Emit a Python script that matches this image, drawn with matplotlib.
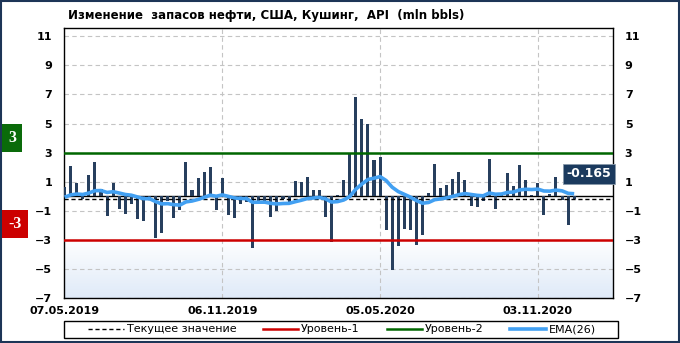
import numpy as np
import matplotlib
matplotlib.use("Agg")
import matplotlib.pyplot as plt
from matplotlib.lines import Line2D
from matplotlib.patches import Rectangle
from matplotlib.colors import LinearSegmentedColormap
import matplotlib.transforms as mtransforms

values = [0.6, 2.05, 0.89, -0.22, 1.45, 2.38, 0.53, -1.33, 0.88, -0.85,
          -1.2, -0.52, -1.55, -1.69, -0.1, -2.9, -2.5, -0.32, -1.47, -0.92,
          2.32, 0.4, 1.22, 1.64, 1.98, -0.92, 1.22, -1.27, -1.47, -0.56,
          -0.38, -3.58, -0.32, -0.34, -1.46, -1.05, -0.2, -0.37, 1.05, 0.96,
          1.31, 0.42, 0.42, -1.46, -3.17, 0.08, 1.11, 2.93, 6.8, 5.34,
          4.94, 2.47, 2.68, -2.35, -5.08, -3.45, -2.28, -2.35, -3.38, -2.69,
          0.2, 2.19, 0.55, 0.75, 1.16, 1.64, 1.1, -0.64, -0.71, -0.31,
          2.58, -0.87, 0.25, 1.62, 0.73, 2.17, 1.14, 0.11, 0.94, -1.28,
          0.18, 1.35, -0.25, -1.96, -0.165]
ema26 = [-0.07, 0.09, 0.15, 0.12, 0.22, 0.38, 0.39, 0.26, 0.31, 0.22,
         0.12, 0.07, -0.05, -0.17, -0.17, -0.37, -0.53, -0.51, -0.58, -0.61,
         -0.39, -0.33, -0.22, -0.08, 0.07, -0.00, 0.09, -0.01, -0.12, -0.15,
         -0.17, -0.42, -0.41, -0.41, -0.49, -0.53, -0.50, -0.49, -0.38, -0.28,
         -0.16, -0.12, -0.08, -0.18, -0.40, -0.37, -0.26, -0.02, 0.48, 0.84,
         1.15, 1.24, 1.35, 1.08, 0.62, 0.32, 0.13, -0.06, -0.30, -0.48,
         -0.43, -0.24, -0.18, -0.11, -0.01, 0.11, 0.18, 0.12, 0.06, 0.03,
         0.22, 0.14, 0.15, 0.26, 0.29, 0.43, 0.48, 0.46, 0.49, 0.36,
         0.35, 0.42, 0.37, 0.20, 0.17]
tick_idx = [0, 26, 52, 78]
tick_labels = ["07.05.2019", "06.11.2019", "05.05.2020", "03.11.2020"]
level1 = -3
level2 = 3
current = -0.165
yticks = [-7, -5, -3, -1, 1, 3, 5, 7, 9, 11]
legend_labels = ["Текущее значение", "Уровень-1", "Уровень-2", "EMA(26)"]

C_BAR = "#273f5e"
C_RED = "#cc0000"
C_GREEN = "#006600"
C_EMA = "#42a0f2"

fig = plt.figure(figsize=(6.8, 3.43), dpi=100)
ax = fig.add_axes([64/680, 1-298/343, (613-64)/680, (298-28)/343])
x = np.arange(len(values))

# gradient background at the bottom of the plot area
cmap = LinearSegmentedColormap.from_list(
    "g", [(0, "#ffffff"), (0.78, "#ffffff"), (1, "#dfeaf8")])
ax.imshow(np.linspace(1, 0, 256).reshape(-1, 1), aspect="auto", cmap=cmap,
          origin="lower", extent=[0, 1, 0, 1], transform=ax.transAxes, zorder=0)

for yv in yticks:
    ax.axhline(yv, color="#c4c4c4", lw=0.8, ls=(0, (4, 3)), zorder=1)
for t in tick_idx[1:]:
    ax.axvline(t, color="#c4c4c4", lw=0.8, ls=(0, (4, 3)), zorder=1)

ax.bar(x, values, width=0.5, color=C_BAR, zorder=3)
ax.axhline(0, color="black", lw=1.0, zorder=2)
ax.axhline(current, color="black", lw=1.0, ls=(0, (3, 2)), zorder=4)
ax.axhline(level2, color=C_GREEN, lw=1.8, zorder=4)
ax.axhline(level1, color=C_RED, lw=1.8, zorder=4)
ax.plot(x, ema26, color=C_EMA, lw=2.6, zorder=5, solid_capstyle="butt")

ax.set_xlim(-0.1, 90.4)
ax.set_ylim(-7, 11.57)
ax.set_yticks(yticks)
ax.set_xticks(tick_idx)
ax.set_xticklabels(tick_labels)
ax.tick_params(axis="both", length=0, labelsize=8)
ax.tick_params(axis="y", labelleft=True, labelright=True, pad=8.5)
ax.tick_params(axis="x", pad=6)
for lab in ax.get_xticklabels():
    lab.set_fontweight("bold")
for t in ax.yaxis.get_major_ticks():
    t.label1.set_fontweight("bold")
    t.label2.set_fontweight("bold")
for sp in ax.spines.values():
    sp.set_color("black")
    sp.set_linewidth(1.0)

fig.text(68/680, 1-16/343, "Изменение  запасов нефти, США, Кушинг,  API  (mln bbls)",
         fontsize=8.5, fontweight="bold", ha="left", va="center")

# level badges on the left
trans = mtransforms.blended_transform_factory(fig.transFigure, ax.transData)
fig.text(12/680, level2 + 1.0, "3", transform=trans, color="white", fontsize=11.5,
         fontweight="bold", family="Liberation Serif", ha="center", va="center",
         bbox=dict(boxstyle="square,pad=0.38", fc="#0a6b0a", ec="none"))
fig.text(15/680, level1 + 1.1, "-3", transform=trans, color="white", fontsize=11.5,
         fontweight="bold", family="Liberation Serif", ha="center", va="center",
         bbox=dict(boxstyle="square,pad=0.38", fc=C_RED, ec="none"))

ax.text(86.45, 1.53, "%.3f" % current, color="white", fontsize=9, fontweight="bold",
        ha="center", va="center", zorder=6, clip_on=False,
        bbox=dict(boxstyle="square,pad=0.3", fc="#1b3a5e", ec="#8899aa", lw=0.6))

handles = [Line2D([], [], color="black", lw=1.0, ls=(0, (3, 2))),
           Line2D([], [], color=C_RED, lw=1.8),
           Line2D([], [], color=C_GREEN, lw=1.8),
           Line2D([], [], color=C_EMA, lw=2.6)]
leg = fig.legend(handles, legend_labels, loc="center", ncol=4,
                 bbox_to_anchor=(342/680, 1-329.5/343),
                 frameon=False, fontsize=8,
                 handlelength=3.2, borderpad=0.1, handletextpad=0.25,
                 columnspacing=2.4)
fig.add_artist(Rectangle((64/680, 1-338/343), (618-64)/680, 17/343,
                         transform=fig.transFigure, fill=False, ec="black", lw=1.0))

fig.add_artist(Rectangle((0.0015, 0.003), 0.997, 0.994, transform=fig.transFigure,
                         fill=False, ec="#1d3557", lw=1.5))

fig.savefig("out.png", dpi=100)
